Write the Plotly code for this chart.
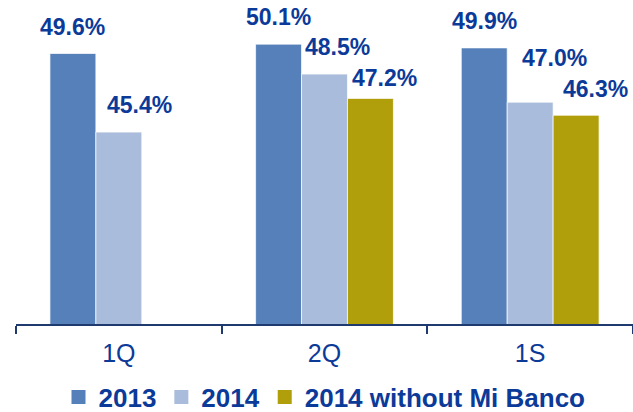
import plotly.graph_objects as go

categories = ["1Q", "2Q", "1S"]
series_names = ["2013", "2014", "2014 without Mi Banco"]
values_2013 = [49.6, 50.1, 49.9]
values_2014 = [45.4, 48.5, 47.0]
values_2014_wo_mibanco = [None, 47.2, 46.3]
series_values = [values_2013, values_2014, values_2014_wo_mibanco]

colors = ["#5680BA", "#A9BCDB", "#B09E0B"]
text_color = "#0B3A99"
axis_color = "#1E3A6E"
FONT = "Liberation Sans, Arial, sans-serif"

W, H = 633, 412
ML, MR, MT, MB = 16, 0, 0, 88
BARGAP = 0.33
y_min = 35.15
px_per_unit = 18.72
y_max = y_min + (H - MT - MB) / px_per_unit

# label nudges (px): horizontal offset from bar centre, vertical gap above bar
label_dx = [[0, 21, 0], [0, 13, 14], [0, 24, 19]]
label_gap = [[16, 16, 0], [16, 16, 9], [16, 33, 15]]

fig = go.Figure()
for name, vals, col in zip(series_names, series_values, colors):
    fig.add_trace(go.Bar(
        x=categories, y=vals, name=name,
        marker=dict(color=col, line=dict(color="rgba(255,255,255,0.7)", width=1)),
        showlegend=False, cliponaxis=False,
    ))
    fig.add_trace(go.Scatter(
        x=[None], y=[None], mode="markers", name=name,
        marker=dict(symbol="square", size=14, color=col),
        showlegend=True,
    ))

plot_w = W - ML - MR
plot_h = H - MT - MB
cat_w = plot_w / len(categories)
bar_w = cat_w * (1 - BARGAP) / len(series_names)

for ci, cat in enumerate(categories):
    for si, vals in enumerate(series_values):
        v = vals[ci]
        if v is None:
            continue
        fig.add_annotation(
            x=cat, y=v, xref="x", yref="y",
            text=f"{v:.1f}%", showarrow=False,
            xanchor="center", yanchor="bottom",
            xshift=(si - 1) * bar_w + label_dx[ci][si],
            yshift=label_gap[ci][si] - 4,
            font=dict(family=FONT, size=23, color=text_color, weight="bold"),
        )

legend_center_px_below_axis = 73

fig.update_layout(
    width=W, height=H,
    margin=dict(l=ML, r=MR, t=MT, b=MB, autoexpand=False),
    paper_bgcolor="white", plot_bgcolor="white",
    barmode="group", bargap=BARGAP, bargroupgap=0,
    showlegend=True,
    legend=dict(
        orientation="h", x=0.5, xanchor="center",
        yref="paper", y=-legend_center_px_below_axis / plot_h, yanchor="middle",
        font=dict(family=FONT, size=26, color=text_color, weight="bold"),
        itemwidth=30, tracegroupgap=0, bgcolor="rgba(0,0,0,0)",
    ),
    xaxis=dict(
        showline=True, linecolor=axis_color, linewidth=2,
        ticks="outside", tickson="boundaries", ticklen=8, tickcolor=axis_color,
        tickwidth=1.5, automargin=False, ticklabelstandoff=6,
        tickfont=dict(family=FONT, size=25, color=text_color),
        showgrid=False, zeroline=False,
    ),
    yaxis=dict(range=[y_min, y_max], visible=False, showgrid=False, automargin=False),
)

fig.write_html("out.html", post_script="document.body.style.margin='0';",
               config={"displayModeBar": False})
